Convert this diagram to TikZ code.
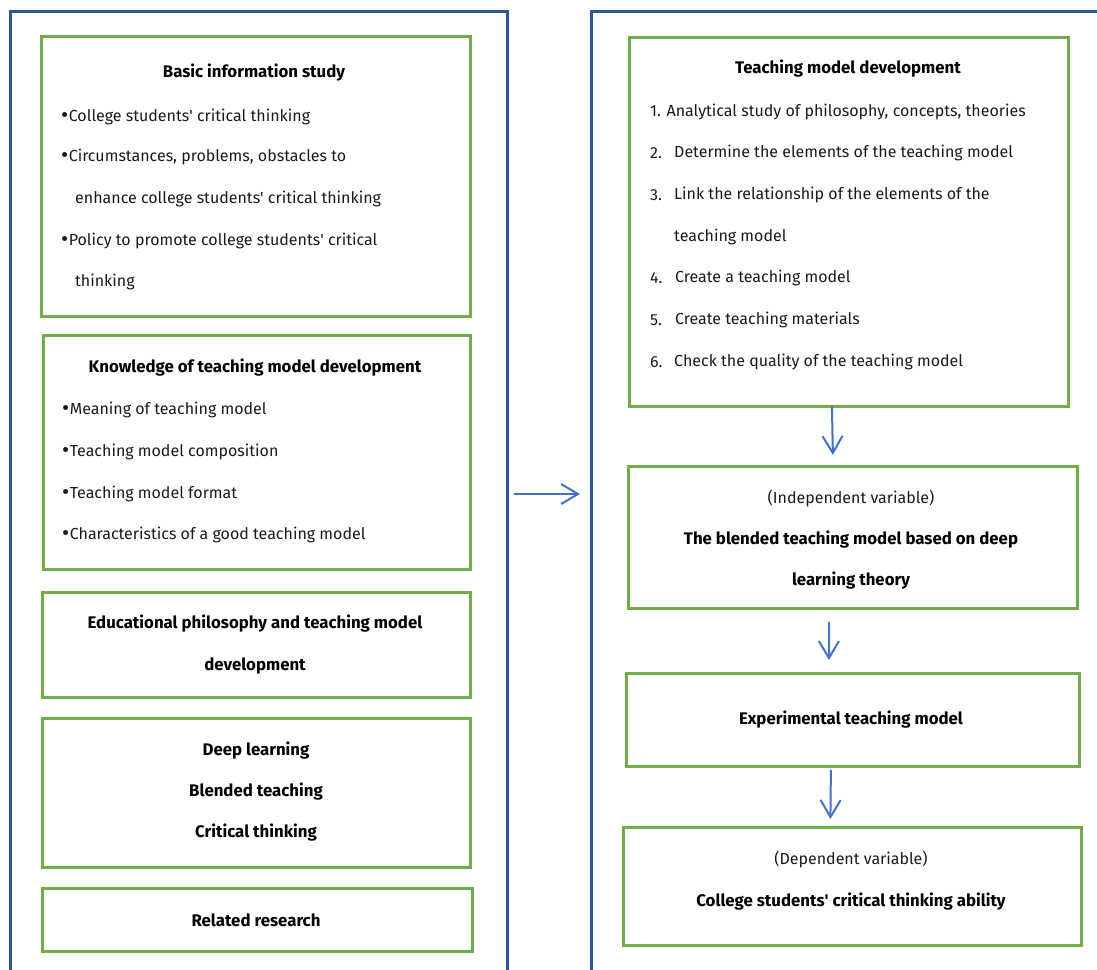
\documentclass[tikz,border=0pt]{standalone}
\usepackage{fontspec}
\setmainfont{Fira Sans}
\newfontfamily\plainfira{Fira Sans}
\usetikzlibrary{arrows.meta,calc}
\definecolor{outerblue}{HTML}{2F5597}
\definecolor{arrowblue}{HTML}{4472C4}
\definecolor{boxgreen}{HTML}{70AD47}
\definecolor{bodytext}{HTML}{1A1A1A}
\tikzset{
  outerbox/.style={draw=outerblue, line width=2.6pt},
  gbox/.style={draw=boxgreen, line width=2.8pt, anchor=north west, inner sep=0pt},
  txt/.style={inner sep=0pt, text=bodytext, font=\fontsize{16}{18}\selectfont},
  ttl/.style={inner sep=0pt, font=\fontsize{16.8}{19}\selectfont\bfseries},
  lt/.style={txt, anchor=west},
  arr/.style={draw=arrowblue, line width=2pt, -{Straight Barb[length=17pt,width=20pt,line width=2pt]}},
}
\newcommand{\bul}{{\fontsize{22}{22}\selectfont\raisebox{-0.05ex}{•}}\hspace{0.5pt}}
\newcommand{\apo}{{\plainfira'}}
\begin{document}
\begin{tikzpicture}[x=1pt,y=-1pt]
\useasboundingbox (0,0) rectangle (1097,969);
\clip (0,0) rectangle (1097,969);
% outer frames
\node[outerbox, anchor=north west, minimum width=497pt, minimum height=990pt, inner sep=0pt] (L) at (9,10) {};
\node[outerbox, anchor=north west, minimum width=540pt, minimum height=990pt, inner sep=0pt] (R) at (590,10) {};

% ---- left column ----
\node[gbox, minimum width=429pt, minimum height=280pt] (b1) at (40,35) {};
\node[ttl] (b1t) at (254,73) {Basic information study};
\node[lt] (b1a) at (61,117) {\bul College students\apo{} critical thinking};
\node[lt] (b1b) at (61,157) {\bul Circumstances, problems, obstacles to};
\node[lt] (b1c) at (75,199) {enhance college students\apo{} critical thinking};
\node[lt] (b1d) at (61,241) {\bul Policy to promote college students\apo{} critical};
\node[lt] (b1e) at (75,282) {thinking};

\node[gbox, minimum width=427pt, minimum height=234pt] (b2) at (42,334) {};
\node[ttl] (b2t) at (255,368) {Knowledge of teaching model development};
\node[lt] (b2a) at (62,410) {\bul Meaning of teaching model};
\node[lt] (b2b) at (62,452) {\bul Teaching model composition};
\node[lt] (b2c) at (62,494) {\bul Teaching model format};
\node[lt] (b2d) at (62,535) {\bul Characteristics of a good teaching model};

\node[gbox, minimum width=428pt, minimum height=105pt] (b3) at (41,591) {};
\node[ttl] (b3a) at (255,624) {Educational philosophy and teaching model};
\node[ttl] (b3b) at (255,666) {development};

\node[gbox, minimum width=428pt, minimum height=149pt] (b4) at (41,717) {};
\node[ttl] (b4a) at (256,751) {Deep learning};
\node[ttl] (b4b) at (256,792) {Blended teaching};
\node[ttl] (b4c) at (256,833) {Critical thinking};

\node[gbox, minimum width=430pt, minimum height=63pt] (b5) at (41,887) {};
\node[ttl] (b5a) at (256,920) {Related research};

% ---- right column ----
\node[gbox, minimum width=439pt, minimum height=369pt] (r1) at (628,36) {};
\node[ttl] (r1t) at (848,69) {Teaching model development};
\node[lt] (r1a) at (650,112) {1. Analytical study of philosophy, concepts, theories};
\node[lt] (r1n2) at (650,153) {2.};
\node[lt] (r1b) at (674,153) {Determine the elements of the teaching model};
\node[lt] (r1n3) at (650,195) {3.};
\node[lt] (r1c) at (674,195) {Link the relationship of the elements of the};
\node[lt] (r1d) at (674,237) {teaching model};
\node[lt] (r1n4) at (650,278) {4.};
\node[lt] (r1e) at (675,278) {Create a teaching model};
\node[lt] (r1n5) at (650,320) {5.};
\node[lt] (r1f) at (675,320) {Create teaching materials};
\node[lt] (r1n6) at (650,362) {6.};
\node[lt] (r1g) at (674,362) {Check the quality of the teaching model};

\node[gbox, minimum width=449pt, minimum height=142pt] (r2) at (627,465) {};
\node[txt] (r2a) at (851,498) {(Independent variable)};
\node[ttl] (r2b) at (851,540) {The blended teaching model based on deep};
\node[ttl] (r2c) at (851,581) {learning theory};

\node[gbox, minimum width=453pt, minimum height=93pt] (r3) at (625,672) {};
\node[ttl] (r3a) at (851,720) {Experimental teaching model};

\node[gbox, minimum width=458pt, minimum height=118pt] (r4) at (622,826) {};
\node[txt] (r4a) at (851,859) {(Dependent variable)};
\node[ttl] (r4b) at (851,902) {College students\apo{} critical thinking ability};

% ---- arrows ----
\draw[arr] ($(L.east|-0,494)+(5,0)$) -- ($(R.west|-0,494)+(-10,0)$);
\draw[arr] ($(r1.south)+(-17,-2)$) -- ($(r2.north)+(-20,-10)$);
\draw[arr] ($(r2.south)+(-24,12)$) -- ($(r3.north)+(-24,-12)$);
\draw[arr] ($(r3.south)+(-22,2)$) -- ($(r4.north)+(-22,-7)$);
\end{tikzpicture}
\end{document}
